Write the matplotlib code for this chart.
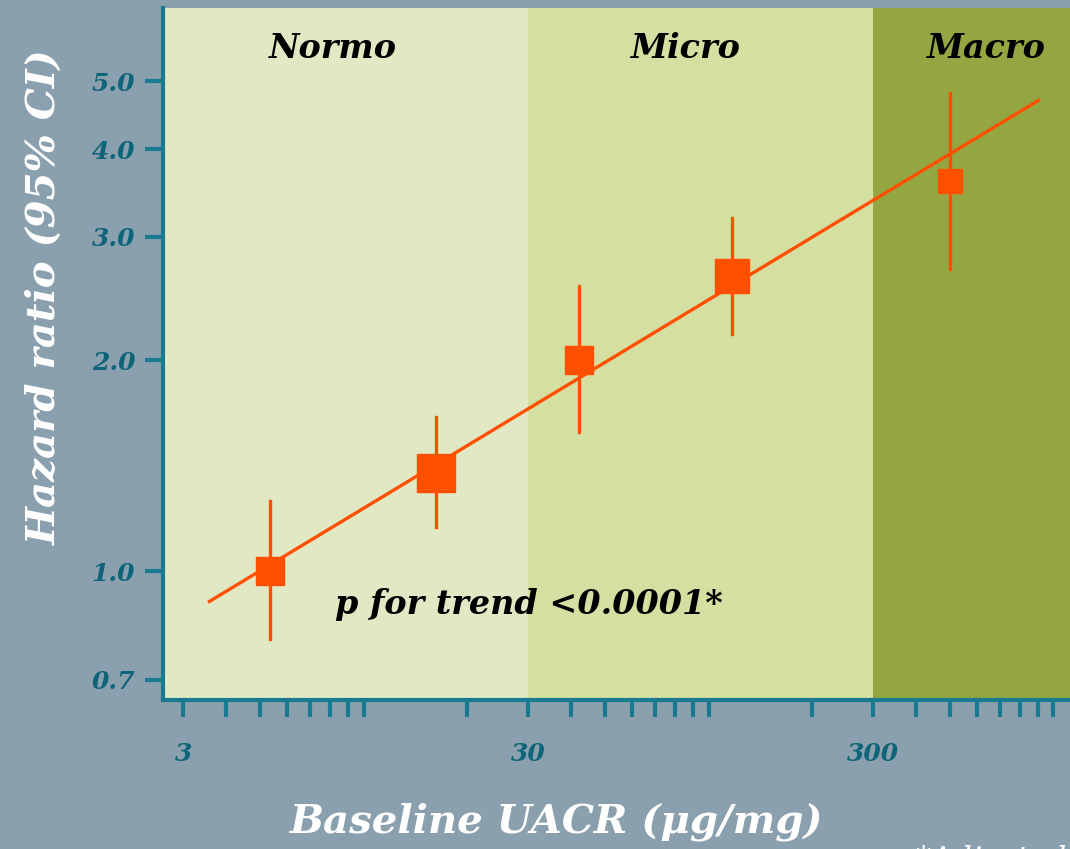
import matplotlib
matplotlib.use("Agg")
import matplotlib.pyplot as plt
from matplotlib.ticker import FixedLocator, FixedFormatter, LogLocator, NullFormatter, NullLocator

# Data
uacr = [5.35, 16.2, 42.2, 117, 500]
hr = [1.0, 1.38, 2.0, 2.64, 3.6]
ci_low = [0.80, 1.155, 1.58, 2.18, 2.70]
ci_high = [1.26, 1.66, 2.55, 3.19, 4.81]
marker_px = [28, 38, 28, 34, 24]
trend_x = [3.54, 915]
trend_y = [0.903, 4.71]
regions = [("Normo", 2.0, 30), ("Micro", 30, 300), ("Macro", 300, 5000)]
region_label_x = [8.17, 86, 641]
yticks = [0.7, 1.0, 2.0, 3.0, 4.0, 5.0]
ytick_labels = ["0.7", "1.0", "2.0", "3.0", "4.0", "5.0"]
xticks = [3, 30, 300]
xtick_labels = ["3", "30", "300"]

BG = "#8ba0ae"
REGION_COLORS = ["#e1e9c4", "#d5dfa1", "#93a641"]
ORANGE = "#ff4f00"
TEAL = "#1a7a91"
TEAL_TXT = "#0e6478"
SERIF = ["DejaVu Serif", "Liberation Serif"]

fig = plt.figure(figsize=(10.7, 8.49), dpi=100, facecolor=BG)
ax = fig.add_axes([163/1070, 149/849, 1 - 163/1070, (700-8)/849])
ax.set_xscale("log")
ax.set_yscale("log")
ax.set_xlim(2.62, 1117)
ax.set_ylim(0.655, 6.36)
ax.set_facecolor(BG)

for (name, x0, x1), c in zip(regions, REGION_COLORS):
    ax.axvspan(x0, x1, color=c, zorder=0, lw=0)

for (name, _, _), lx in zip(regions, region_label_x):
    ax.text(lx, 5.57, name, ha="center", va="center", fontsize=24,
            fontweight="bold", fontstyle="italic", family=SERIF, color="black")

ax.plot(trend_x, trend_y, color=ORANGE, lw=2.4, zorder=3, solid_capstyle="butt")
for x, y, lo, hi, s in zip(uacr, hr, ci_low, ci_high, marker_px):
    ax.plot([x, x], [lo, hi], color=ORANGE, lw=2.4, zorder=3)
    ax.plot([x], [y], marker="s", ms=s * 0.72, color=ORANGE, mec=ORANGE, zorder=4, ls="none")

ax.text(8.27, 0.895, "p for trend <0.0001*", ha="left", va="center", fontsize=24,
        fontweight="bold", fontstyle="italic", family=SERIF, color="black")

for side in ["top", "right"]:
    ax.spines[side].set_visible(False)
for side in ["left", "bottom"]:
    ax.spines[side].set_color(TEAL)
    ax.spines[side].set_linewidth(3)

ax.yaxis.set_major_locator(FixedLocator(yticks))
ax.yaxis.set_major_formatter(FixedFormatter(ytick_labels))
ax.yaxis.set_minor_locator(NullLocator())
ax.xaxis.set_major_locator(FixedLocator(xticks))
ax.xaxis.set_major_formatter(FixedFormatter(xtick_labels))
ax.xaxis.set_minor_locator(LogLocator(base=10, subs=range(1, 10), numticks=20))
ax.xaxis.set_minor_formatter(NullFormatter())

ax.tick_params(axis="y", which="major", length=13, width=3, color=TEAL, pad=7,
               labelsize=18, labelcolor=TEAL_TXT)
ax.tick_params(axis="x", which="both", length=12, width=3, color=TEAL, pad=18,
               labelsize=18, labelcolor=TEAL_TXT)
for lab in ax.get_yticklabels() + ax.get_xticklabels():
    lab.set_family(SERIF)
    lab.set_fontweight("bold")
    lab.set_fontstyle("italic")

fig.text(45/1070, 1 - 297/849, "Hazard ratio (95% CI)", rotation=90, ha="center", va="center",
         fontsize=29, fontweight="bold", fontstyle="italic", family=SERIF, color="white")
fig.text(557/1070, 1 - 822/849, "Baseline UACR (μg/mg)", ha="center", va="center",
         fontsize=29, fontweight="bold", fontstyle="italic", family=SERIF, color="white")
fig.text(915/1070, 1 - 860/849, "*Adjusted", ha="left", va="center",
         fontsize=22, fontstyle="italic", family=SERIF, color="white")

fig.savefig("out.png", dpi=100, facecolor=BG)
